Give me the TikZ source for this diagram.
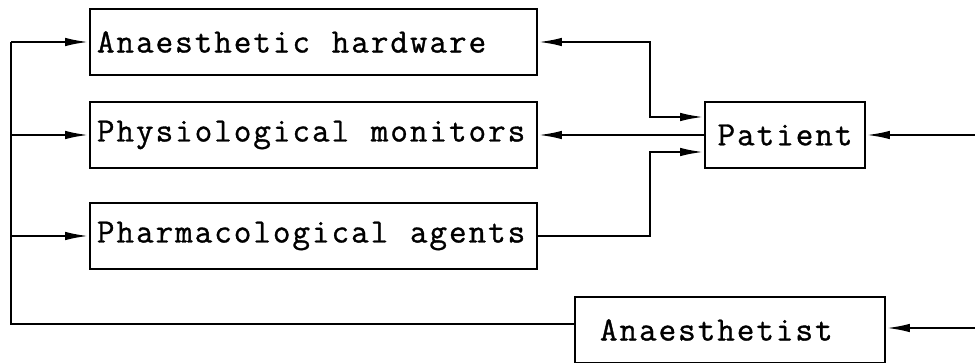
\documentclass[tikz,border=0pt]{standalone}
\usepackage{fontspec}
\setmonofont{Latin Modern Mono}[LetterSpace=6,WordSpace={1.114,0,0},FakeBold=1]
\usetikzlibrary{arrows.meta}
\newcommand{\lbox}[2]{\makebox[#1][l]{#2}}
\begin{document}
\begin{tikzpicture}
  [x=1pt,y=-1pt,>={Latex[length=24pt,width=8.5pt]},line width=2.4pt,
   every node/.style={draw,line width=1.8pt,minimum height=66pt,
     font=\ttfamily\fontsize{34}{38}\selectfont},
   wide/.style={minimum width=447pt,inner xsep=7pt}]
  \useasboundingbox (0,0) rectangle (975,363);
  \node[wide] (hw) at (313.5,42) {\lbox{433pt}{Anaesthetic hardware}};
  \node[wide] (mon) at (313.5,135) {\lbox{433pt}{Physiological monitors}};
  \node[wide] (ph) at (313.5,236) {\lbox{433pt}{Pharmacological agents}};
  \node[minimum width=160pt] (pat) at (785,135) {Patient};
  \node[minimum width=310pt,inner xsep=25pt] (an) at (730,330) {\lbox{260pt}{Anaesthetist}};

  \coordinate (bustop) at (11,42);
  \coordinate (hwj) at (650,117);
  \coordinate (phj) at (650,152);
  \coordinate (pin) at (975,135);
  \coordinate (ain) at (975,328);

  \draw ([yshift=6pt]an.west) -| (bustop);
  \foreach \n in {hw,mon,ph}
    \draw[->] (bustop |- \n.west) -- (\n.west);
  \draw[<->] (hw.east) -| (hwj) -- (hwj -| pat.west);
  \draw[->] (pat.west) -- (mon.east);
  \draw[->] (ph.east) -| (phj) -- (phj -| pat.west);
  \draw[->] (pin) -- (pat.east);
  \draw[->] (ain) -- (ain -| an.east);
\end{tikzpicture}
\end{document}
